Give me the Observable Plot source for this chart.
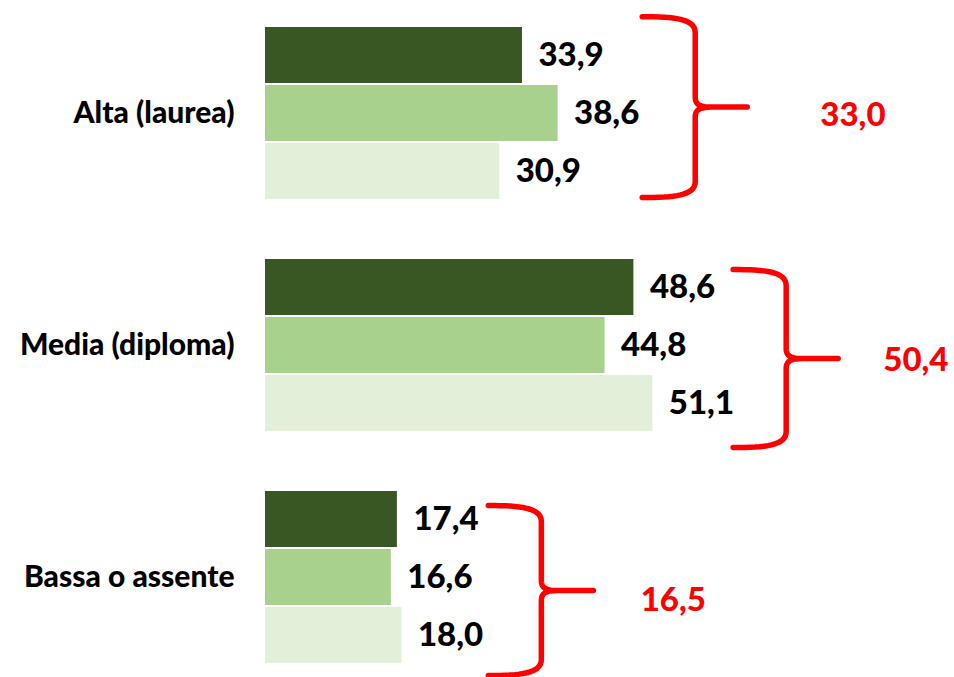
<!DOCTYPE html>
<html>
<head>
<meta charset="utf-8">
<script src="https://cdn.jsdelivr.net/npm/d3@7"></script>
<script src="https://cdn.jsdelivr.net/npm/@observablehq/plot@0.6"></script>
<style>
  html, body { margin: 0; padding: 0; background: #fff; }
</style>
</head>
<body>
<div id="chart"></div>
<script>
// ---- data ----
const categories = ["Alta (laurea)", "Media (diploma)", "Bassa o assente"];
const seriesNames = ["Serie 1", "Serie 2", "Serie 3"];
const serie1 = [33.9, 48.6, 17.4];
const serie2 = [38.6, 44.8, 16.6];
const serie3 = [30.9, 51.1, 18.0];
const totals = [33.0, 50.4, 16.5];

// ---- annotation layout (brace & total placement, in scale units) ----
const braceX = [49.7, 61.7, 29.4];          // x where the brace arms start
const braceTop = [-0.17, 0.19, 0.26];       // row offsets within category
const braceBottom = [2.95, 3.26, 3.19];
const totalX = [73.2, 81.5, 49.5];
const totalY = [1.53, 1.76, 1.9];

const colors = ["#385723", "#A9D18E", "#E2F0D9"];
const seriesValues = [serie1, serie2, serie3];

const width = 954, height = 677;
const marginLeft = 265, marginRight = 0, marginTop = 26, marginBottom = 13;
const xMax = 90.9, yMax = 11;
const pxPerX = (width - marginLeft - marginRight) / xMax;
const pxPerY = (height - marginTop - marginBottom) / yMax;

const fmt = v => d3.format(".1f")(v).replace(".", ",");

const rows = categories.flatMap((c, i) =>
  seriesValues.map((vals, j) => ({category: c, series: seriesNames[j], value: vals[i], row: i * 4 + j}))
);

// brace shape generator (pixel offsets converted into scale units)
function cubic(p0, p1, p2, p3, n) {
  const out = [];
  for (let k = 0; k <= n; k++) {
    const t = k / n, u = 1 - t;
    out.push([
      u*u*u*p0[0] + 3*u*u*t*p1[0] + 3*u*t*t*p2[0] + t*t*t*p3[0],
      u*u*u*p0[1] + 3*u*u*t*p1[1] + 3*u*t*t*p2[1] + t*t*t*p3[1]
    ]);
  }
  return out;
}
function bracePoints(i) {
  const sx = braceX[i];
  const top = i * 4 + braceTop[i];
  const bot = i * 4 + braceBottom[i];
  const H = (bot - top) * pxPerY, M = H / 2;
  const a = 53, t = 52;
  let p = [];
  p = p.concat(cubic([0, 0], [a * 0.6, 0], [a, 2], [a, 16], 16));
  p.push([a, M - 10]);
  p = p.concat(cubic([a, M - 10], [a, M - 3], [a + 4, M], [a + 16, M], 10));
  p.push([a + t, M]);
  p.push([a + 16, M]);
  p = p.concat(cubic([a + 16, M], [a + 4, M], [a, M + 3], [a, M + 10], 10));
  p.push([a, H - 16]);
  p = p.concat(cubic([a, H - 16], [a, H - 2], [a * 0.6, H], [0, H], 16));
  return p.map(([px, py]) => ({category: categories[i], x: sx + px / pxPerX, y: top + py / pxPerY}));
}
const braces = categories.flatMap((c, i) => bracePoints(i));

const chart = Plot.plot({
  width, height, marginLeft, marginRight, marginTop, marginBottom,
  style: {fontFamily: "Lato, 'Open Sans', sans-serif", background: "#fff"},
  x: {domain: [0, xMax], axis: null},
  y: {domain: [0, yMax], reverse: true, axis: null},
  color: {domain: seriesNames, range: colors},
  marks: [
    Plot.rect(rows, {x1: 0, x2: "value", y1: "row", y2: d => d.row + 1, fill: "series", insetTop: 1, insetBottom: 1}),
    Plot.text(rows, {x: "value", y: d => d.row + 0.5, text: d => fmt(d.value), dx: 16, textAnchor: "start",
      fontSize: 33, fontWeight: 900, fill: "#000"}),
    Plot.text(categories, {x: 0, y: (d, i) => i * 4 + 1.5, text: d => d, dx: -31, textAnchor: "end",
      fontSize: 30, fontWeight: 900, fill: "#000"}),
    Plot.line(braces, {x: "x", y: "y", z: "category", stroke: "#ff0000", strokeWidth: 5.5,
      strokeLinejoin: "round", curve: "linear"}),
    Plot.text(totals, {x: (d, i) => totalX[i], y: (d, i) => i * 4 + totalY[i], text: d => fmt(d),
      textAnchor: "start", fontSize: 33, fontWeight: 900, fill: "#ff0000"})
  ]
});
document.getElementById("chart").appendChild(chart);
</script>
</body>
</html>
